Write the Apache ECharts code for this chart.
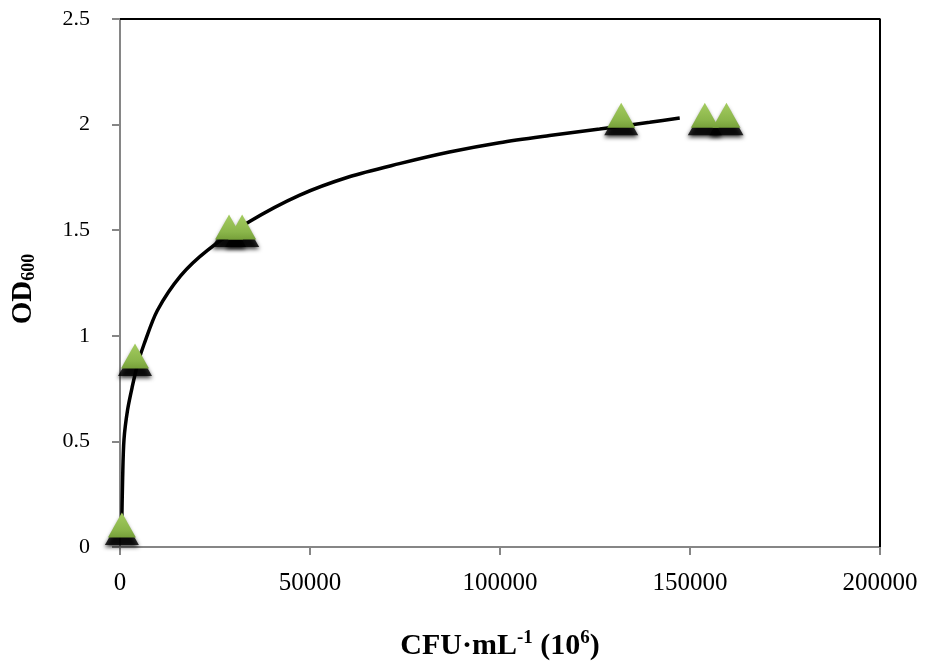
<!DOCTYPE html>
<html>
<head>
<meta charset="utf-8">
<script src="https://cdn.jsdelivr.net/npm/echarts@6/dist/echarts.min.js"></script>
<style>
  html, body { margin: 0; padding: 0; background: #fff; }
  #chart { width: 925px; height: 666px; }
</style>
</head>
<body>
<div id="chart"></div>
<script>
// measured points (CFU·mL-1 x 10^6, OD600)
const cfuValues = [500, 3950, 28700, 32150, 131900, 153900, 159600];
const odValues = [0.1, 0.9, 1.51, 1.51, 2.04, 2.04, 2.04];

// trend line
const trendX = [400, 700, 1054, 2000, 3241, 4700, 6324, 9829, 15995, 23004, 33992, 47167, 60343, 73518, 86693, 99868, 113043, 126219, 139394, 147299];
const trendY = [0.05, 0.33, 0.51, 0.65, 0.76, 0.87, 0.96, 1.12, 1.285, 1.405, 1.54, 1.665, 1.753, 1.815, 1.87, 1.914, 1.948, 1.979, 2.011, 2.031];

const xTicks = [0, 50000, 100000, 150000, 200000];
const yTicks = [0, 0.5, 1, 1.5, 2, 2.5];

const FONT = "'Liberation Serif', 'DejaVu Serif', serif";
const AXIS_GREY = "#868686";

const chart = echarts.init(document.getElementById("chart"));

const points = cfuValues.map((x, i) => [x, odValues[i]]);

const option = {
  animation: false,
  backgroundColor: "#fff",
  grid: { left: 120, right: 45, top: 19, bottom: 114, show: false },
  xAxis: {
    type: "value",
    min: xTicks[0],
    max: xTicks[xTicks.length - 1],
    interval: 50000,
    axisLine: { show: true, lineStyle: { color: AXIS_GREY, width: 2 } },
    axisTick: { show: true, inside: false, length: 8, lineStyle: { color: AXIS_GREY, width: 2 } },
    splitLine: { show: false },
    axisLabel: { fontFamily: FONT, fontSize: 25, color: "#000", margin: 24, formatter: (v) => String(v) },
    name: "{a|CFU·mL}{sup|-1}{a| (10}{sup|6}{a|)}",
    nameLocation: "middle",
    nameGap: 82,
    nameTextStyle: {
      rich: {
        a: { fontFamily: FONT, fontSize: 30, fontWeight: "bold", color: "#000", lineHeight: 32, verticalAlign: "bottom" },
        sup: { fontFamily: FONT, fontSize: 19, fontWeight: "bold", color: "#000", lineHeight: 32, verticalAlign: "top", padding: [0, 0, 13, 0] },
      },
    },
  },
  yAxis: {
    type: "value",
    min: yTicks[0],
    max: yTicks[yTicks.length - 1],
    interval: 0.5,
    axisLine: { show: true, lineStyle: { color: AXIS_GREY, width: 2 } },
    axisTick: { show: true, inside: false, length: 8, lineStyle: { color: AXIS_GREY, width: 2 } },
    splitLine: { show: false },
    axisLabel: { fontFamily: FONT, fontSize: 22, color: "#000", margin: 30 },
    name: "{a|OD}{sub|600}",
    nameLocation: "middle",
    nameRotate: 90,
    nameGap: 82,
    nameTextStyle: {
      padding: [0, 12, 0, 0],
      rich: {
        a: { fontFamily: FONT, fontSize: 29, fontWeight: "bold", color: "#000", lineHeight: 32, verticalAlign: "bottom" },
        sub: { fontFamily: FONT, fontSize: 18, fontWeight: "bold", color: "#000", lineHeight: 32, verticalAlign: "bottom", padding: [10, 0, 0, 0] },
      },
    },
  },
  series: [
    {
      // frame: black top and right border
      type: "line",
      silent: true,
      symbol: "none",
      lineStyle: { color: "#000", width: 2 },
      data: [[xTicks[0], yTicks[yTicks.length - 1]], [xTicks[xTicks.length - 1], yTicks[yTicks.length - 1]], [xTicks[xTicks.length - 1], yTicks[0]]],
      z: 1,
    },
    {
      name: "trend",
      type: "line",
      smooth: 0.3,
      symbol: "none",
      lineStyle: { color: "#000", width: 3.5 },
      data: trendX.map((x, i) => [x, trendY[i]]),
      z: 2,
    },
    {
      // marker shadow
      type: "scatter",
      silent: true,
      symbol: "triangle",
      symbolSize: [34, 30],
      symbolOffset: [0, 4],
      itemStyle: { color: "#000", shadowColor: "#000", shadowBlur: 4, shadowOffsetY: 2 },
      data: points,
      z: 3,
    },
    {
      name: "OD600",
      type: "scatter",
      symbol: "triangle",
      symbolSize: [28, 25],
      symbolOffset: [0, -1],
      itemStyle: {
        color: new echarts.graphic.LinearGradient(0, 0, 0, 1, [
          { offset: 0, color: "#a4cc60" },
          { offset: 0.7, color: "#8ab54a" },
          { offset: 1, color: "#76a03a" },
        ]),
        opacity: 1,
      },
      data: points,
      z: 4,
    },
  ],
};

chart.setOption(option);
</script>
</body>
</html>
